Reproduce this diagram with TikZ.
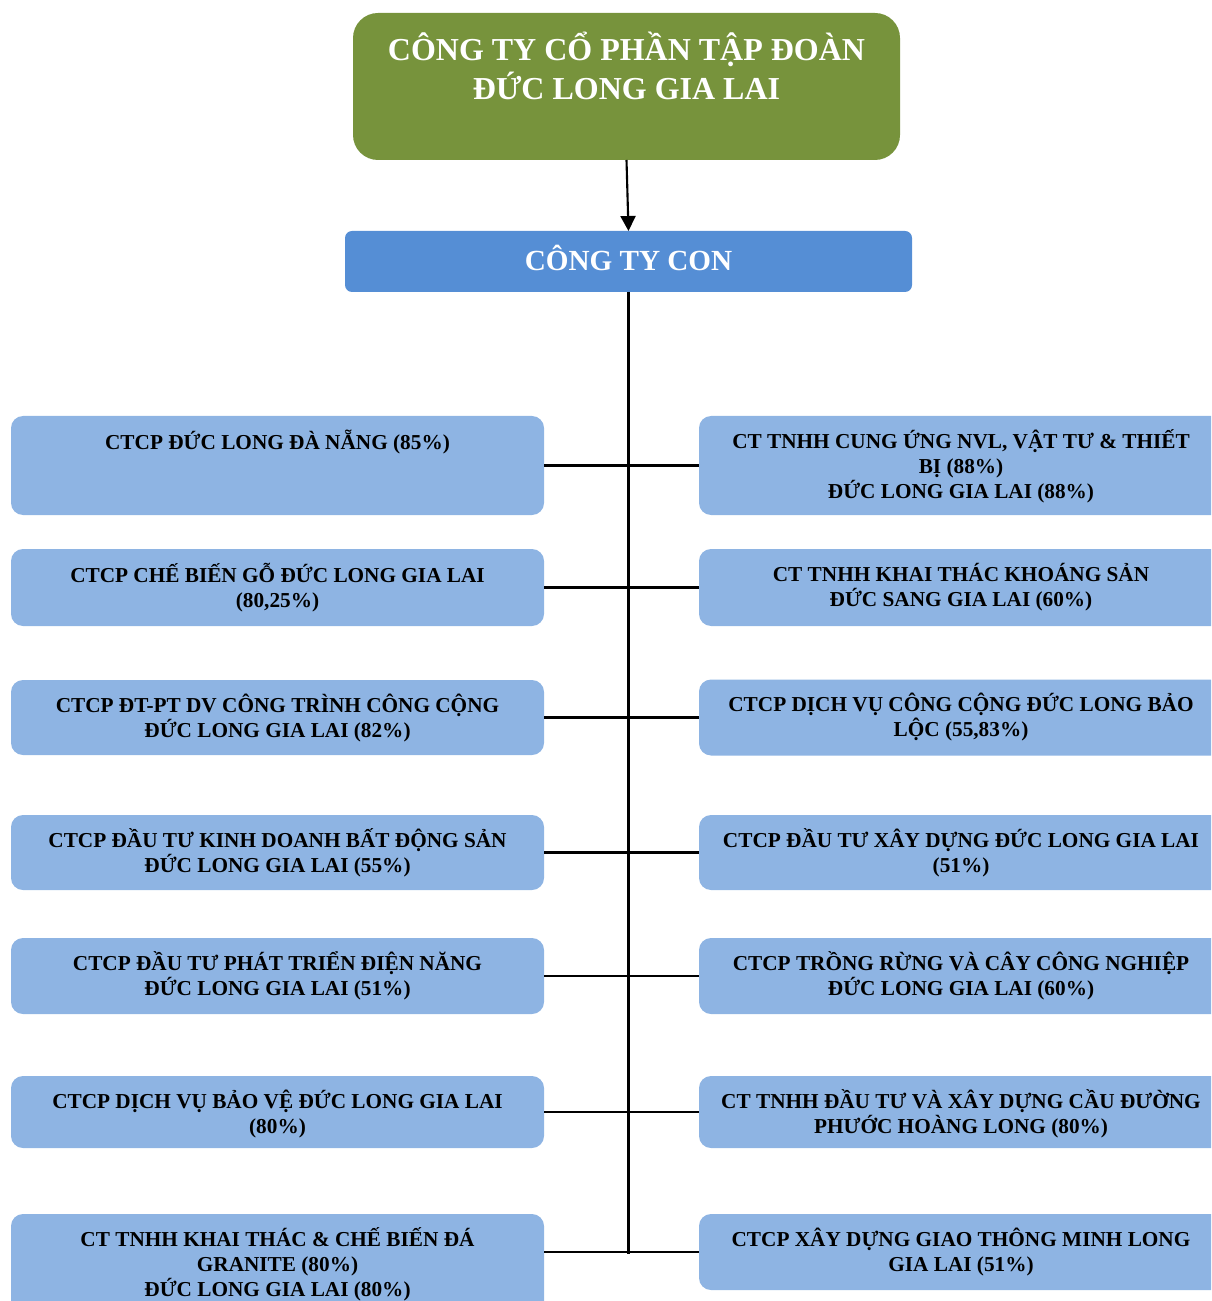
\documentclass[tikz,border=0pt]{standalone}
\usepackage{fontspec}
\setmainfont{Liberation Serif}
\usepackage{tikz}
\usetikzlibrary{arrows.meta, positioning}
\definecolor{groupgreen}{HTML}{77933C}
\definecolor{conblue}{HTML}{558ED5}
\definecolor{subblue}{HTML}{8EB4E3}
\tikzset{
    groupbox/.style={rectangle, fill=groupgreen, rounded corners=0.5cm, minimum width=10.94cm, minimum height=2.94cm, outer sep=0pt},
    conbox/.style={rectangle, fill=conblue, rounded corners=0.14cm, minimum width=11.34cm, minimum height=1.22cm, outer sep=0pt, text=white, text depth=0.14cm, font=\fontsize{16.6}{20}\selectfont\bfseries},
    subbox/.style={rectangle, fill=subblue, rounded corners=0.24cm, minimum width=10.66cm, outer sep=0pt},
    subtxt/.style={inner sep=0pt, align=center, font=\fontsize{12.1}{14.2}\selectfont\bfseries},
    link/.style={line width=1.2pt},
    arrow/.style={-{Triangle[length=0.3cm, width=0.3cm]}, line width=1.2pt},
}
\begin{document}
\begin{tikzpicture}
    \useasboundingbox (0,0) rectangle (24.22,-26.02);
    \clip (0,0) rectangle (24.22,-26.02);
    % group and subsidiaries heading
    \node[groupbox, anchor=north] (group) at (12.53,-0.26) {};
    \node[inner sep=0pt, align=center, text=white, font=\fontsize{18.2}{22.2}\selectfont\bfseries, below=0.37cm of group.north] (groupt) {CÔNG TY CỔ PHẦN TẬP ĐOÀN\\ĐỨC LONG GIA LAI};
    \node[conbox, anchor=north] (con) at (12.57,-4.62) {CÔNG TY CON};
    \draw[arrow] (group.south) -- (con.north);
    % left column
    \node[subbox, anchor=north west, minimum height=1.98cm] (l1) at (0.22,-8.32) {};
    \node[subbox, below=0.68cm of l1, minimum height=1.54cm] (l2) {};
    \node[subbox, below=1.08cm of l2, minimum height=1.50cm] (l3) {};
    \node[subbox, below=1.20cm of l3, minimum height=1.50cm] (l4) {};
    \node[subbox, below=0.96cm of l4, minimum height=1.52cm] (l5) {};
    \node[subbox, below=1.24cm of l5, minimum height=1.44cm] (l6) {};
    \node[subbox, below=1.32cm of l6, minimum height=2.2cm] (l7) {};
    % right column
    \node[subbox, right=3.1cm of l1, minimum width=10.48cm, minimum height=1.98cm] (r1) {};
    \node[subbox, right=3.1cm of l2, minimum width=10.48cm, minimum height=1.54cm] (r2) {};
    \node[subbox, right=3.1cm of l3, minimum width=10.48cm, minimum height=1.52cm] (r3) {};
    \node[subbox, right=3.1cm of l4, minimum width=10.48cm, minimum height=1.50cm] (r4) {};
    \node[subbox, right=3.1cm of l5, minimum width=10.48cm, minimum height=1.52cm] (r5) {};
    \node[subbox, right=3.1cm of l6, minimum width=10.48cm, minimum height=1.44cm] (r6) {};
    \node[subbox, below=1.32cm of r6, minimum width=10.48cm, minimum height=1.52cm] (r7) {};
    % texts
    \node[subtxt, below=0.27cm of l1.north] (l1t) {CTCP ĐỨC LONG ĐÀ NẴNG (85\%)};
    \node[subtxt, below=0.27cm of l2.north] (l2t) {CTCP CHẾ BIẾN GỖ ĐỨC LONG GIA LAI\\(80,25\%)};
    \node[subtxt, below=0.27cm of l3.north] (l3t) {CTCP ĐT-PT DV CÔNG TRÌNH CÔNG CỘNG\\ĐỨC LONG GIA LAI (82\%)};
    \node[subtxt, below=0.27cm of l4.north] (l4t) {CTCP ĐẦU TƯ KINH DOANH BẤT ĐỘNG SẢN\\ĐỨC LONG GIA LAI (55\%)};
    \node[subtxt, below=0.27cm of l5.north] (l5t) {CTCP ĐẦU TƯ PHÁT TRIỂN ĐIỆN NĂNG\\ĐỨC LONG GIA LAI (51\%)};
    \node[subtxt, below=0.27cm of l6.north] (l6t) {CTCP DỊCH VỤ BẢO VỆ ĐỨC LONG GIA LAI\\(80\%)};
    \node[subtxt, below=0.27cm of l7.north] (l7t) {CT TNHH KHAI THÁC \& CHẾ BIẾN ĐÁ\\GRANITE (80\%)\\ĐỨC LONG GIA LAI (80\%)};
    \node[subtxt, below=0.27cm of r1.north] (r1t) {CT TNHH CUNG ỨNG NVL, VẬT TƯ \& THIẾT\\BỊ (88\%)\\ĐỨC LONG GIA LAI (88\%)};
    \node[subtxt, below=0.27cm of r2.north] (r2t) {CT TNHH KHAI THÁC KHOÁNG SẢN\\ĐỨC SANG GIA LAI (60\%)};
    \node[subtxt, below=0.27cm of r3.north] (r3t) {CTCP DỊCH VỤ CÔNG CỘNG ĐỨC LONG BẢO\\LỘC (55,83\%)};
    \node[subtxt, below=0.27cm of r4.north] (r4t) {CTCP ĐẦU TƯ XÂY DỰNG ĐỨC LONG GIA LAI\\(51\%)};
    \node[subtxt, below=0.27cm of r5.north] (r5t) {CTCP TRỒNG RỪNG VÀ CÂY CÔNG NGHIỆP\\ĐỨC LONG GIA\ LAI (60\%)};
    \node[subtxt, below=0.27cm of r6.north] (r6t) {CT TNHH ĐẦU TƯ VÀ XÂY DỰNG CẦU ĐƯỜNG\\PHƯỚC HOÀNG LONG (80\%)};
    \node[subtxt, below=0.27cm of r7.north] (r7t) {CTCP XÂY DỰNG GIAO THÔNG MINH LONG\\GIA LAI (51\%)};
    % connectors
    \coordinate (trunk) at (con.south |- r7.west);
    \draw[link] (con.south) -- ([yshift=-1pt]trunk);
    \draw[link] (l1.east) -- (r1.west);
    \draw[link] (l2.east) -- (r2.west);
    \draw[link] (l3.east) -- (r3.west);
    \draw[link] (l4.east) -- (r4.west);
    \draw[link] (l5.east) -- (r5.west);
    \draw[link] (l6.east) -- (r6.west);
    \draw[link] (l7.east |- r7.west) -- (r7.west);
\end{tikzpicture}
\end{document}
